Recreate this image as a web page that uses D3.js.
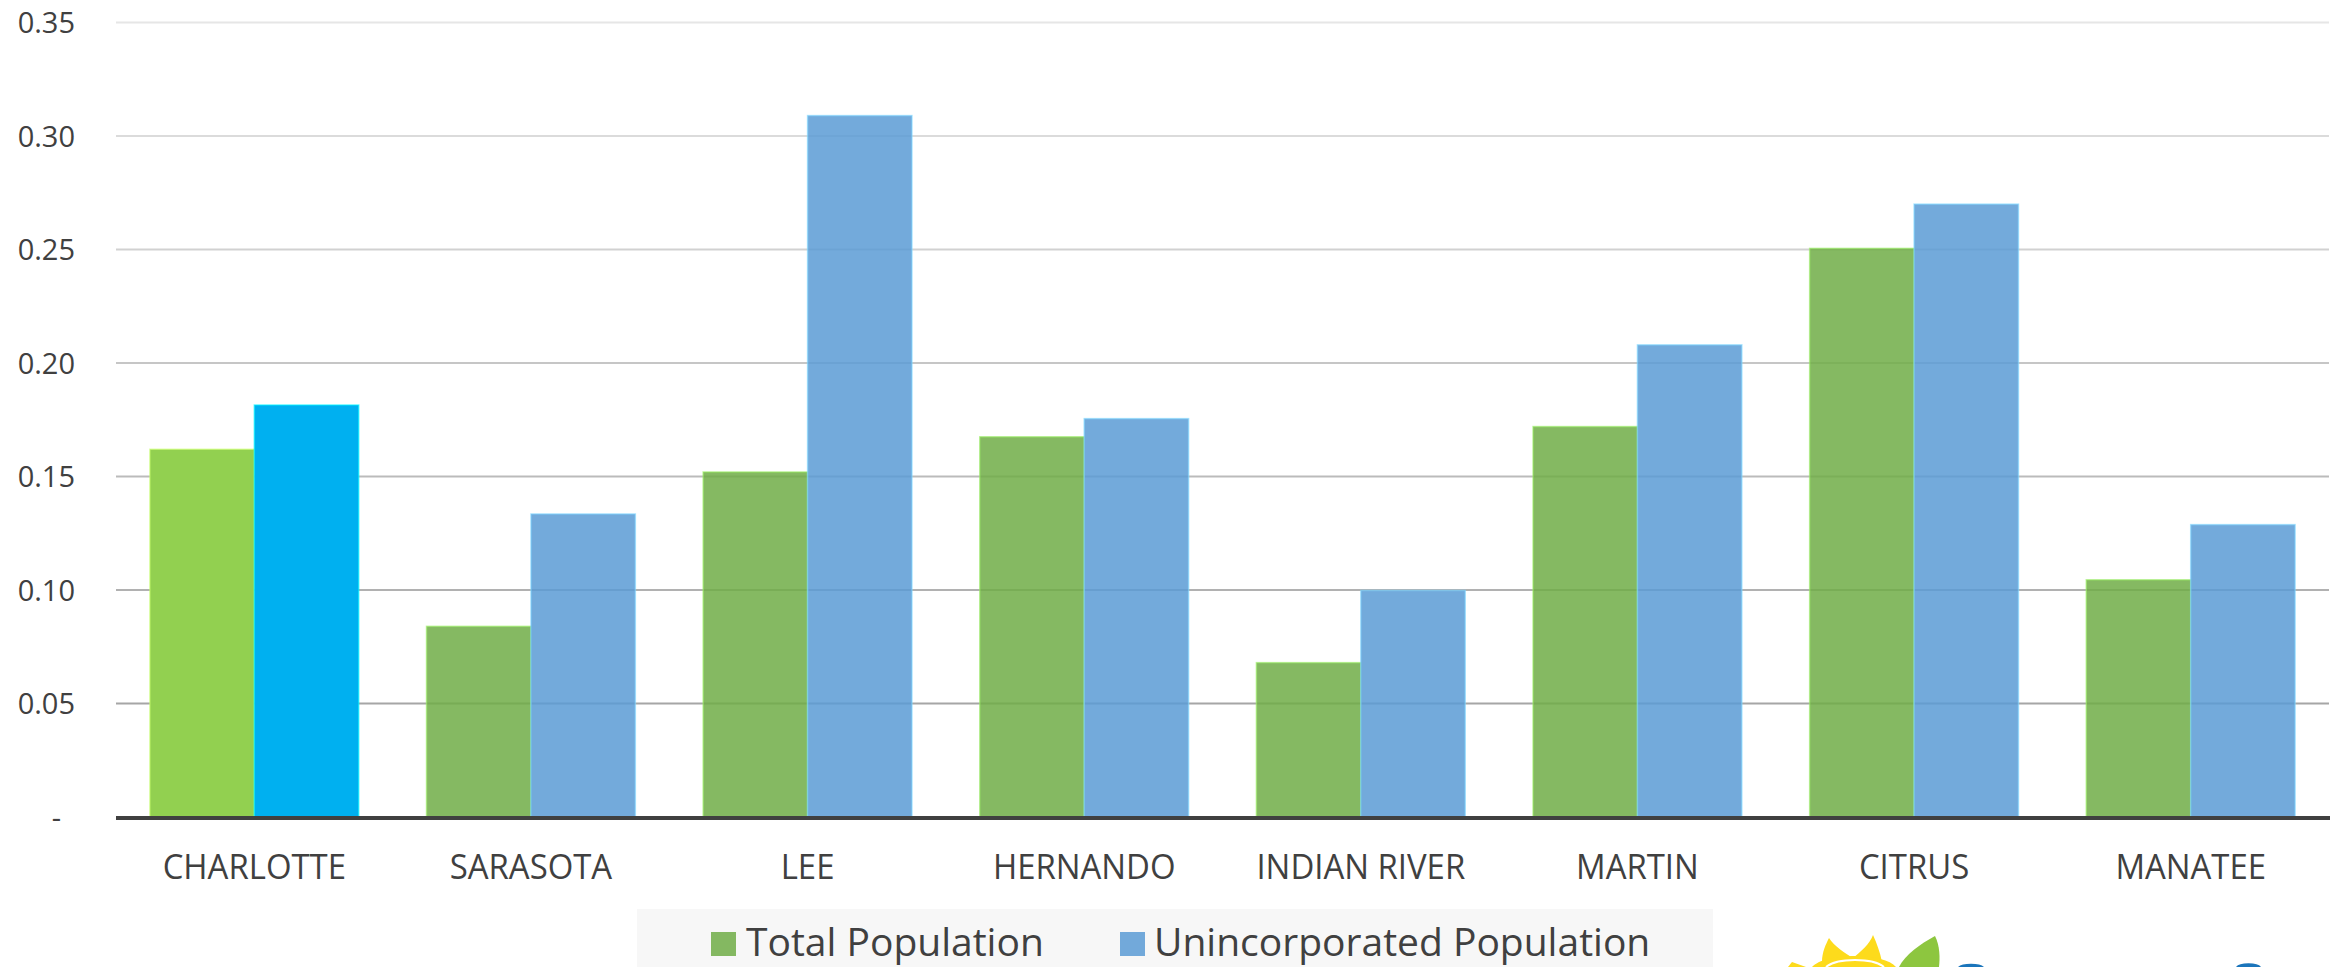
<!DOCTYPE html>
<html>
<head>
<meta charset="utf-8">
<script src="https://cdn.jsdelivr.net/npm/d3@7"></script>
<style>
  html, body { margin: 0; padding: 0; background: #ffffff; }
  svg { display: block; }
  text { font-family: "Open Sans", "Noto Sans", sans-serif; fill: #404040; }
</style>
</head>
<body>
<svg id="chart" width="2330" height="967"></svg>
<script>
// County names along the x axis
const counties = ["CHARLOTTE", "SARASOTA", "LEE", "HERNANDO", "INDIAN RIVER", "MARTIN", "CITRUS", "MANATEE"];

// Series names and values (share of population)
const seriesNames = ["Total Population", "Unincorporated Population"];
const totalPopulation = [0.162, 0.084, 0.152, 0.1675, 0.068, 0.172, 0.2505, 0.1045];
const unincorporatedPopulation = [0.1815, 0.1335, 0.309, 0.1755, 0.0998, 0.208, 0.270, 0.1288];

// Y axis ticks and their labels
const yTicks = [0, 0.05, 0.10, 0.15, 0.20, 0.25, 0.30, 0.35];
const yTickLabels = ["-", "0.05", "0.10", "0.15", "0.20", "0.25", "0.30", "0.35"];

const W = 2330, H = 967;
const plot = { left: 116, right: 2329, top: 22.5, bottom: 817 };

const svg = d3.select("#chart");

const x = d3.scaleBand()
  .domain(counties)
  .range([plot.left, plot.right])
  .paddingInner(0.245)
  .paddingOuter(0.1225);

const xSub = d3.scaleBand()
  .domain(seriesNames)
  .range([0, x.bandwidth()])
  .padding(0);

const y = d3.scaleLinear()
  .domain([0, 0.35])
  .range([plot.bottom, plot.top]);

// Gridlines fade toward the top of the plot
const gridShade = d3.scaleLinear()
  .domain([0.05, 0.35])
  .range(["#a6a6a6", "#e6e6e6"]);

// Horizontal gridlines
svg.append("g")
  .attr("class", "grid")
  .selectAll("line")
  .data(yTicks.filter(d => d > 0))
  .join("line")
  .attr("x1", plot.left)
  .attr("x2", plot.right)
  .attr("y1", d => y(d))
  .attr("y2", d => y(d))
  .attr("stroke", d => gridShade(d))
  .attr("stroke-width", 2);

// Y axis labels
const yAxis = d3.axisLeft(y)
  .tickValues(yTicks)
  .tickFormat((d, i) => yTickLabels[i])
  .tickSize(0)
  .tickPadding(0);

const yAxisG = svg.append("g")
  .attr("transform", "translate(75,0)")
  .call(yAxis);
yAxisG.select(".domain").remove();
yAxisG.selectAll("text")
  .attr("font-size", 29)
  .attr("dy", "0.35em")
  .attr("dx", d => d === 0 ? -14 : 0)
  .style("font-family", "\"Open Sans\", sans-serif")
  .attr("fill", "#404040");

// Bars: the first county is highlighted in brighter colours
const rows = counties.map((c, i) => ({
  county: c,
  index: i,
  values: [
    { series: seriesNames[0], value: totalPopulation[i] },
    { series: seriesNames[1], value: unincorporatedPopulation[i] }
  ]
}));

const normalFill = { [seriesNames[0]]: "#70AD47", [seriesNames[1]]: "#5B9BD5" };
const highlightFill = { [seriesNames[0]]: "#92D050", [seriesNames[1]]: "#00B0F0" };

const groups = svg.append("g")
  .attr("class", "bars")
  .selectAll("g")
  .data(rows)
  .join("g")
  .attr("transform", d => `translate(${x(d.county)},0)`);

groups.selectAll("rect")
  .data(d => d.values.map(v => ({ ...v, highlight: d.index === 0 })))
  .join("rect")
  .attr("x", d => xSub(d.series))
  .attr("width", xSub.bandwidth())
  .attr("y", d => y(d.value))
  .attr("height", d => y(0) - y(d.value))
  .attr("fill", d => d.highlight ? highlightFill[d.series] : normalFill[d.series])
  .attr("fill-opacity", d => d.highlight ? 1 : 0.85)
  .attr("stroke", d => d3.color(d.highlight ? highlightFill[d.series] : normalFill[d.series]).brighter(0.9))
  .attr("stroke-opacity", 0.6)
  .attr("stroke-width", 1.5);

// X axis baseline
svg.append("line")
  .attr("x1", plot.left)
  .attr("x2", plot.right + 1)
  .attr("y1", y(0) + 1)
  .attr("y2", y(0) + 1)
  .attr("stroke", "#404040")
  .attr("stroke-width", 4);

// Category labels (slightly condensed)
const xAxis = d3.axisBottom(x).tickSize(0).tickPadding(0);
const xAxisG = svg.append("g")
  .attr("transform", `translate(0,${879})`)
  .call(xAxis);
xAxisG.select(".domain").remove();
xAxisG.selectAll("text")
  .attr("y", 0)
  .attr("dy", 0)
  .attr("font-size", 35)
  .attr("transform", "scale(0.94,1)")
  .style("font-family", "\"Open Sans\", sans-serif")
  .attr("fill", "#404040");

// Legend
const legend = svg.append("g").attr("class", "legend");
legend.append("rect")
  .attr("x", 637).attr("y", 909)
  .attr("width", 1076).attr("height", 70)
  .attr("fill", "#f7f7f7");

const legendItems = [
  { name: seriesNames[0], swatchX: 711, textX: 746 },
  { name: seriesNames[1], swatchX: 1120, textX: 1154 }
];
legend.selectAll("rect.swatch")
  .data(legendItems)
  .join("rect")
  .attr("class", "swatch")
  .attr("x", d => d.swatchX).attr("y", 932)
  .attr("width", 25).attr("height", 24)
  .attr("fill", d => normalFill[d.name])
  .attr("fill-opacity", 0.85);
legend.selectAll("text")
  .data(legendItems)
  .join("text")
  .attr("x", d => d.textX)
  .attr("y", 956)
  .attr("font-size", 39)
  .text(d => d.name);

// Logo peeking in at the bottom right edge
const logo = svg.append("g").attr("class", "logo");
logo.append("path")
  .attr("d", "M1822,962 C1822,952 1826,944 1829,938 C1834,946 1846,954 1853,958 Z")
  .attr("fill", "#FDDB1C");
logo.append("path")
  .attr("d", "M1853,958 C1860,952 1870,944 1873,935 C1877,944 1880,952 1882,962 Z")
  .attr("fill", "#FDDB1C");
logo.append("path")
  .attr("d", "M1812,967 C1818,960 1836,956 1855,956 C1874,956 1890,960 1896,967 Z")
  .attr("fill", "#FDDB1C");
logo.append("path")
  .attr("d", "M1826,967 C1832,962 1844,960 1855,960 C1866,960 1878,962 1884,967")
  .attr("fill", "none")
  .attr("stroke", "#ffffff")
  .attr("stroke-width", 2);
logo.append("path")
  .attr("d", "M1788,967 L1792,962 L1806,967 Z")
  .attr("fill", "#FDDB1C");
logo.append("path")
  .attr("d", "M1899,967 C1905,955 1920,944 1935,936 C1940,946 1940,958 1939,967 Z")
  .attr("fill", "#8DC63F");
logo.append("path")
  .attr("d", "M1958,967 A14,5 0 0 1 1984,967 Z")
  .attr("fill", "#1B75BB");
logo.append("path")
  .attr("d", "M2236,967 A13,5 0 0 1 2261,967 Z")
  .attr("fill", "#1B75BB");
</script>
</body>
</html>
